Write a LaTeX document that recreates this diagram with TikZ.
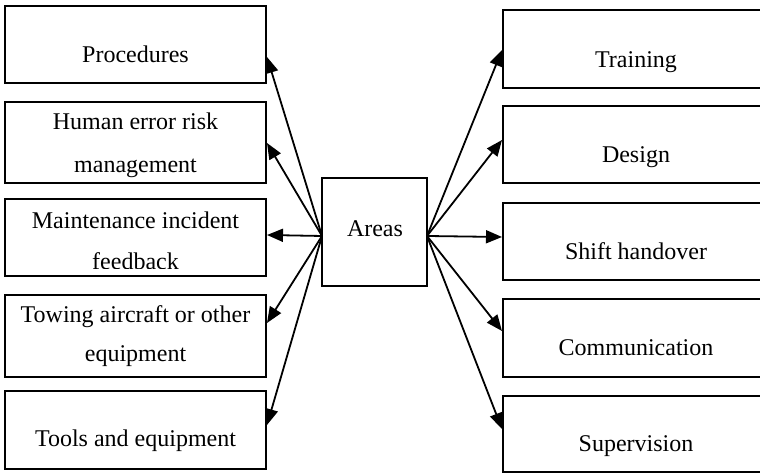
\documentclass[tikz,border=0pt]{standalone}
\usepackage{fontspec}
\setmainfont{Liberation Serif}
\usetikzlibrary{arrows.meta}
\begin{document}
\begin{tikzpicture}[x=0.5pt,y=-0.5pt,
  box/.style={draw, line width=1pt, inner sep=0pt},
  lbl/.style={font=\fontsize{12}{19.5}\selectfont, align=center, anchor=base, inner sep=0pt},
  arr/.style={-{Triangle[length=8pt,width=6.5pt]}, line width=0.9pt}]
\useasboundingbox (0,0) rectangle (760,474);
\clip (0,0) rectangle (760,474);
% left boxes
\node[box, minimum width=130.5pt, minimum height=38.5pt] (l1) at (135.5,44.5) {};
\node[box, minimum width=130.5pt, minimum height=40.5pt] (l2) at (135.5,142.5) {};
\node[box, minimum width=130.5pt, minimum height=38.5pt] (l3) at (135.5,237.5) {};
\node[box, minimum width=130.5pt, minimum height=41pt] (l4) at (135.5,336) {};
\node[box, minimum width=130.5pt, minimum height=39pt] (l5) at (135.5,430) {};
% right boxes
\node[box, minimum width=133.5pt, minimum height=39pt] (r1) at (636.5,49) {};
\node[box, minimum width=133.5pt, minimum height=38.5pt] (r2) at (636.5,144.5) {};
\node[box, minimum width=133.5pt, minimum height=38.5pt] (r3) at (636.5,241.5) {};
\node[box, minimum width=133.5pt, minimum height=39pt] (r4) at (636.5,338) {};
\node[box, minimum width=133.5pt, minimum height=38pt] (r5) at (636.5,434) {};
% center
\node[box, minimum width=52.5pt, minimum height=54pt] (c) at (374.5,232) {};
% labels (multi-line labels: base = baseline of last line)
\node[lbl] (tl1) at (135.5,63) {Procedures};
\node[lbl, font=\fontsize{12}{21.5}\selectfont] (tl2) at (135.5,173) {Human error risk\\management};
\begin{scope}
  \clip (5,199) rectangle (266,269);
  \node[lbl, font=\fontsize{12}{20.5}\selectfont] (tl3) at (135.5,270) {Maintenance incident\\feedback};
\end{scope}
\node[lbl] (tl4) at (135.5,362) {Towing aircraft or other\\equipment};
\node[lbl] (tl5) at (135.5,447) {Tools and equipment};
\node[lbl] (tr1) at (636,68) {Training};
\node[lbl] (tr2) at (636,163) {Design};
\node[lbl] (tr3) at (636,260) {Shift handover};
\node[lbl] (tr4) at (636,356) {Communication};
\node[lbl] (tr5) at (636,452) {Supervision};
\node[lbl] (tc) at (375,237) {Areas};
% arrows
\coordinate (cl) at (322,236);
\coordinate (cr) at (427,236);
\draw[arr] (cl) -- (l1.east |- 0,57);
\draw[arr] (cl) -- (l2.east |- 0,143);
\draw[arr] (cl) -- (l3.east |- 0,235);
\draw[arr] (cl) -- (l4.east |- 0,323);
\draw[arr] (cl) -- (l5.east |- 0,425);
\draw[arr] (cr) -- (r1.west |- 0,50);
\draw[arr] (cr) -- (r2.west |- 0,140);
\draw[arr] (cr) -- (r3.west |- 0,237);
\draw[arr] (cr) -- (r4.west |- 0,331);
\draw[arr] (cr) -- (r5.west |- 0,429);
\end{tikzpicture}
\end{document}
